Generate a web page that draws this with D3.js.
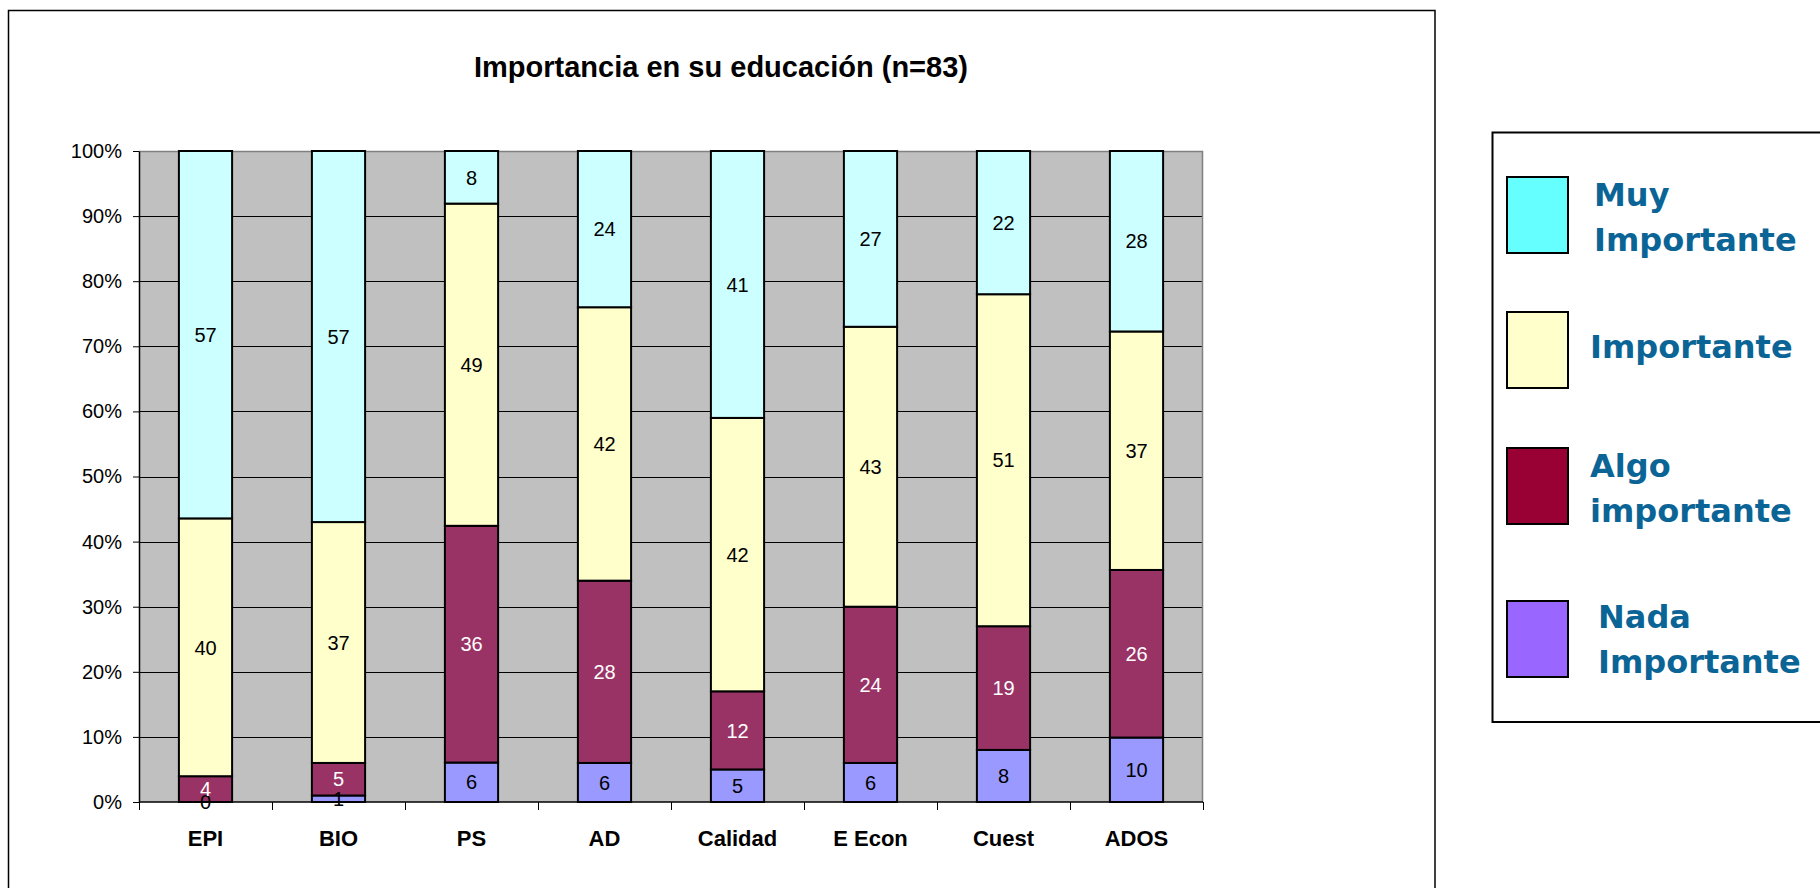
<!DOCTYPE html>
<html>
<head>
<meta charset="utf-8">
<script src="https://cdn.jsdelivr.net/npm/d3@7"></script>
<style>
  body { margin: 0; background: #fff; }
  svg { display: block; }
  text { font-family: Arial, "Liberation Sans", sans-serif; }
  .legend-label { font-family: "Comic Sans MS", "DejaVu Sans", sans-serif; font-weight: bold; fill: #0b6496; }
</style>
</head>
<body>
<script>
"use strict";

var categories = ["EPI", "BIO", "PS", "AD", "Calidad", "E Econ", "Cuest", "ADOS"],
    nada = [0, 1, 6, 6, 5, 6, 8, 10],
    algo = [4, 5, 36, 28, 12, 24, 19, 26],
    importante = [40, 37, 49, 42, 42, 43, 51, 37],
    muy = [57, 57, 8, 24, 41, 27, 22, 28],
    yTicks = [0, 0.1, 0.2, 0.3, 0.4, 0.5, 0.6, 0.7, 0.8, 0.9, 1],
    seriesKeys = ["nada", "algo", "importante", "muy"],
    barColours = { nada: "#9999ff", algo: "#993366", importante: "#ffffcc", muy: "#ccffff" },
    labelColours = { nada: "#000", algo: "#fff", importante: "#000", muy: "#000" },
    legendItems = [
      { key: "muy", lines: ["Muy", "Importante"], swatch: "#66ffff" },
      { key: "importante", lines: ["Importante"], swatch: "#ffffcc" },
      { key: "algo", lines: ["Algo", "importante"], swatch: "#990033" },
      { key: "nada", lines: ["Nada", "Importante"], swatch: "#9966ff" }
    ],
    title = "Importancia en su educación (n=83)";

var width = 1820,
    height = 888,
    plot = { left: 139, right: 1203, top: 151, bottom: 802 };

var rows = categories.map(function(c, i) {
  return { cat: c, nada: nada[i], algo: algo[i], importante: importante[i], muy: muy[i] };
});

var stacked = d3.stack()
    .keys(seriesKeys)
    .offset(d3.stackOffsetExpand)(rows);

var svg = d3.select("body").append("svg")
    .attr("width", width)
    .attr("height", height);

// chart frame
svg.append("rect")
  .attr("x", 8.5).attr("y", 10.5)
  .attr("width", 1435 - 8.5).attr("height", 900)
  .attr("fill", "#fff").attr("stroke", "#000").attr("stroke-width", 1.5);

svg.append("text")
  .attr("x", 721).attr("y", 77)
  .attr("text-anchor", "middle")
  .attr("font-size", 29).attr("font-weight", "bold")
  .text(title);

var x = d3.scaleBand()
    .domain(categories)
    .range([plot.left, plot.right])
    .paddingInner(0.6)
    .paddingOuter(0.3);

var y = d3.scaleLinear()
    .domain([0, 1])
    .range([plot.bottom, plot.top]);

// plot background
svg.append("rect")
  .attr("x", plot.left).attr("y", plot.top)
  .attr("width", plot.right - plot.left).attr("height", plot.bottom - plot.top)
  .attr("fill", "#c0c0c0");

svg.append("g")
  .selectAll("line")
  .data(yTicks.filter(function(t) { return t > 0 && t < 1; }))
  .enter().append("line")
  .attr("x1", plot.left).attr("x2", plot.right)
  .attr("y1", function(d) { return Math.round(y(d)) + 0.5; })
  .attr("y2", function(d) { return Math.round(y(d)) + 0.5; })
  .attr("stroke", "#000").attr("stroke-width", 1);

// gray top and right border of the plot area
svg.append("path")
  .attr("d", "M" + plot.left + "," + (plot.top + 0.5) + "H" + (plot.right - 0.5) + "V" + plot.bottom)
  .attr("fill", "none").attr("stroke", "#808080").attr("stroke-width", 1.5);

// bars
var layer = svg.append("g")
  .selectAll("g")
  .data(stacked)
  .enter().append("g")
  .attr("fill", function(s) { return barColours[s.key]; });

layer.selectAll("rect")
  .data(function(s) { return s; })
  .enter().append("rect")
  .attr("x", function(d) { return x(d.data.cat); })
  .attr("width", x.bandwidth())
  .attr("y", function(d) { return y(d[1]); })
  .attr("height", function(d) { return y(d[0]) - y(d[1]); })
  .attr("stroke", "#000").attr("stroke-width", 2);

// value labels
svg.append("g")
  .selectAll("g")
  .data(stacked)
  .enter().append("g")
  .attr("fill", function(s) { return labelColours[s.key]; })
  .each(function(s) {
    d3.select(this).selectAll("text")
      .data(s)
      .enter().append("text")
      .attr("x", function(d) { return x(d.data.cat) + x.bandwidth() / 2; })
      .attr("y", function(d) { return y((d[0] + d[1]) / 2); })
      .attr("dy", "0.36em")
      .attr("text-anchor", "middle")
      .attr("font-size", 20)
      .text(function(d) { return d.data[s.key]; });
  });

// y axis
var yAxis = svg.append("g")
  .attr("transform", "translate(" + plot.left + ",0)")
  .call(d3.axisLeft(y)
    .tickValues(yTicks)
    .tickFormat(d3.format(".0%"))
    .tickSizeInner(6)
    .tickSizeOuter(0)
    .tickPadding(11));
yAxis.select(".domain").attr("stroke", "#000").attr("stroke-width", 1.5);
yAxis.selectAll(".tick line").attr("stroke", "#000");
yAxis.selectAll("text").attr("font-size", 20).attr("font-family", "Arial, 'Liberation Sans', sans-serif").attr("fill", "#000");

// x axis with ticks at category boundaries
var step = x.step(),
    edges = categories.map(function(c) { return x(c) - (step - x.bandwidth()) / 2; })
      .concat([plot.right]);

svg.append("line")
  .attr("x1", plot.left).attr("x2", plot.right)
  .attr("y1", plot.bottom).attr("y2", plot.bottom)
  .attr("stroke", "#000").attr("stroke-width", 1.5);

svg.append("g")
  .selectAll("line")
  .data(edges)
  .enter().append("line")
  .attr("x1", function(d) { return Math.round(d) + 0.5; })
  .attr("x2", function(d) { return Math.round(d) + 0.5; })
  .attr("y1", plot.bottom).attr("y2", plot.bottom + 8)
  .attr("stroke", "#000").attr("stroke-width", 1);

svg.append("g")
  .selectAll("text")
  .data(categories)
  .enter().append("text")
  .attr("x", function(c) { return x(c) + x.bandwidth() / 2; })
  .attr("y", 846)
  .attr("text-anchor", "middle")
  .attr("font-size", 22).attr("font-weight", "bold")
  .text(function(c) { return c; });

// legend
var legend = svg.append("g");

legend.append("rect")
  .attr("x", 1492.5).attr("y", 132.5)
  .attr("width", 400).attr("height", 722 - 132.5)
  .attr("fill", "#fff").attr("stroke", "#000").attr("stroke-width", 2);

var swatchTops = [177, 312, 448, 601],
    textX = [1594, 1590, 1590, 1598],
    firstBaselines = [206, 358, 477, 628],
    lineGap = 45;

var items = legend.selectAll("g.legend-group")
  .data(legendItems)
  .enter().append("g")
  .classed("legend-group", true);

items.append("rect")
  .attr("x", 1507).attr("y", function(d, i) { return swatchTops[i]; })
  .attr("width", 61).attr("height", 76)
  .attr("fill", function(d) { return d.swatch; })
  .attr("stroke", "#000").attr("stroke-width", 2);

items.each(function(d, i) {
  d3.select(this).selectAll("text")
    .data(d.lines)
    .enter().append("text")
    .classed("legend-label", true)
    .attr("x", textX[i])
    .attr("y", function(line, j) { return firstBaselines[i] + j * lineGap; })
    .attr("font-size", 32)
    .text(function(line) { return line; });
});
</script>
</body>
</html>
